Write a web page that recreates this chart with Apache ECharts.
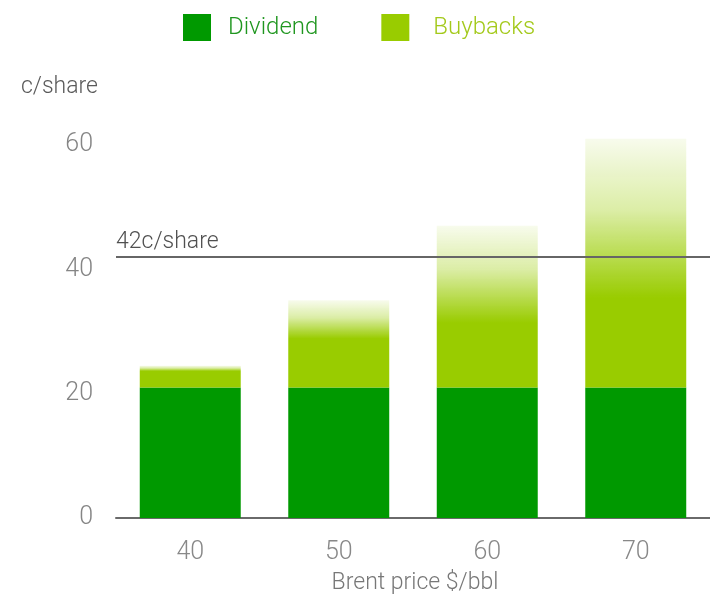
<!DOCTYPE html>
<html>
<head>
<meta charset="utf-8">
<script src="https://cdn.jsdelivr.net/npm/echarts@6/dist/echarts.min.js"></script>
<style>
  html, body { margin: 0; padding: 0; background: #fff; }
  #chart { width: 710px; height: 600px; }
</style>
</head>
<body>
<div id="chart"></div>
<script>
// Brent price scenarios ($/bbl) and distributions per share (c/share)
const categories = ['40', '50', '60', '70'];
const dividend = [21, 21, 21, 21];
const buybacks = [3.5, 14, 26, 40];
const referenceLevel = 42;
const referenceLabel = '42c/share';
const yTicks = [0, 20, 40, 60];

// share of each buyback bar (from its top) that fades out to white
const fadeShare = [0.25, 0.44, 0.6, 0.64];

const GREEN = '#009900';
const LIME = '#99cc00';
const FONT = 'Roboto, "Liberation Sans", sans-serif';
const LIGHT = 300;

function fadeFill(f) {
  return {
    type: 'linear', x: 0, y: 0, x2: 0, y2: 1,
    colorStops: [
      { offset: 0, color: 'rgba(153,204,0,0.07)' },
      { offset: f * 0.45, color: 'rgba(153,204,0,0.35)' },
      { offset: f, color: 'rgba(153,204,0,1)' },
      { offset: 1, color: 'rgba(153,204,0,1)' }
    ]
  };
}

const chart = echarts.init(document.getElementById('chart'));
chart.setOption({
  animation: false,
  textStyle: { fontFamily: FONT, fontWeight: LIGHT },
  legend: {
    top: 9,
    left: 178,
    itemWidth: 28,
    itemHeight: 27,
    itemGap: 63,
    icon: 'rect',
    selectedMode: false,
    data: [
      { name: 'Dividend', textStyle: { color: '#1f961f', fontSize: 24, fontWeight: LIGHT, padding: [0, 0, 0, 12], fontFamily: FONT } },
      { name: 'Buybacks', textStyle: { color: '#a3c91a', fontSize: 24, fontWeight: LIGHT, padding: [0, 0, 0, 19], fontFamily: FONT } }
    ]
  },
  grid: { left: 116, width: 597, top: 120, bottom: 77 },
  xAxis: {
    type: 'category',
    data: categories,
    name: 'Brent price $/bbl',
    nameLocation: 'middle',
    nameGap: 54,
    nameTextStyle: { color: '#777', fontSize: 23, fontWeight: LIGHT, fontFamily: FONT, padding: [0, 0, 0, 4] },
    axisLine: { lineStyle: { color: '#6a6a6a', width: 2 } },
    axisTick: { show: false },
    axisLabel: { color: '#888', fontSize: 25, fontWeight: LIGHT, margin: 22, fontFamily: FONT }
  },
  yAxis: {
    type: 'value',
    min: 0,
    max: 64,
    interval: 20,
    name: 'c/share',
    nameLocation: 'end',
    nameGap: 21,
    nameTextStyle: { color: '#5a5a5a', fontSize: 23, fontWeight: LIGHT, align: 'right', padding: [0, 18, 0, 0], fontFamily: FONT },
    axisLine: { show: false },
    axisTick: { show: false },
    splitLine: { show: false },
    axisLabel: {
      color: '#858585', fontSize: 25, fontWeight: LIGHT, margin: 23, fontFamily: FONT,
      showMaxLabel: false,
      formatter: v => (yTicks.includes(v) ? String(v) : '')
    }
  },
  series: [
    {
      name: 'Dividend',
      type: 'bar',
      stack: 'total',
      barWidth: '68%',
      itemStyle: { color: GREEN },
      data: dividend
    },
    {
      name: 'Buybacks',
      type: 'bar',
      stack: 'total',
      barWidth: '68%',
      itemStyle: { color: LIME },
      data: buybacks.map((v, i) => ({ value: v, itemStyle: { color: fadeFill(fadeShare[i]) } })),
      markLine: {
        silent: true,
        symbol: 'none',
        lineStyle: { color: '#666', width: 2, type: 'solid' },
        label: {
          position: 'insideStartTop',
          formatter: referenceLabel,
          color: '#505050',
          fontSize: 23,
          fontWeight: LIGHT,
          fontFamily: FONT,
          distance: [0, 3]
        },
        data: [{ yAxis: referenceLevel }]
      }
    }
  ]
});
</script>
</body>
</html>
